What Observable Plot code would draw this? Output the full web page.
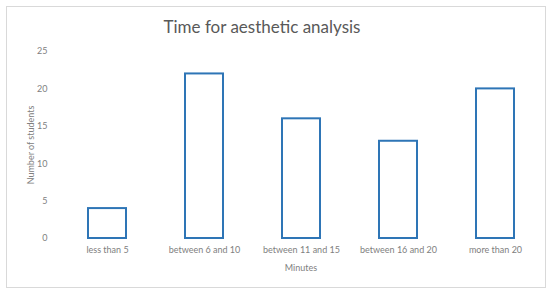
<!DOCTYPE html>
<html>
<head>
<meta charset="utf-8">
<script src="https://cdn.jsdelivr.net/npm/d3@7"></script>
<script src="https://cdn.jsdelivr.net/npm/@observablehq/plot@0.6"></script>
<style>
  html, body { margin: 0; padding: 0; background: #fff; }
  #frame { position: absolute; left: 6px; top: 6px; width: 538px; height: 280px; border: 1px solid #d9d9d9; }
  #title { position: absolute; left: 0; top: 16px; width: 524px; text-align: center; font-family: Lato, sans-serif; font-size: 17px; color: #595959; }
  #chart { position: absolute; left: 0; top: 40px; }
</style>
</head>
<body>
<div id="frame"></div>
<div id="title">Time for aesthetic analysis</div>
<div id="chart"></div>
<script>
const categories = ["less than 5", "between 6 and 10", "between 11 and 15", "between 16 and 20", "more than 20"];
const students = [4, 22, 16, 13, 20];
const yTicks = [0, 5, 10, 15, 20, 25];

const data = categories.map((c, i) => ({category: c, value: students[i]}));

const plot = Plot.plot({
  width: 550,
  height: 238,
  marginTop: 11,
  marginBottom: 40,
  marginLeft: 58,
  marginRight: 7,
  style: {fontFamily: "Lato, sans-serif", fontSize: "9px", color: "#808080", background: "transparent"},
  x: {domain: categories, paddingInner: 0.61, paddingOuter: 0.305, label: null},
  y: {domain: [0, 25], label: null},
  marks: [
    Plot.axisY({ticks: yTicks, tickSize: 0, tickPadding: 11, label: "Number of students", labelAnchor: "center", labelArrow: "none", labelOffset: 31}),
    Plot.axisX({tickSize: 0, tickPadding: 8, label: "Minutes", labelAnchor: "center", labelArrow: "none", labelOffset: 32}),
    Plot.barY(data, {x: "category", y: "value", fill: "white", stroke: "#2e75b6", strokeWidth: 2})
  ]
});
document.getElementById("chart").appendChild(plot);
</script>
</body>
</html>
